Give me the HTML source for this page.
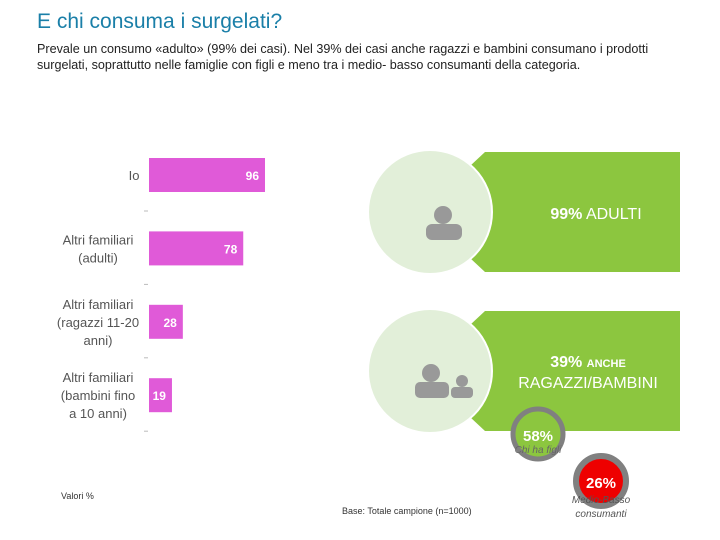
<!DOCTYPE html>
<html><head><meta charset="utf-8"><style>
body{margin:0;width:720px;height:540px;background:#fff;overflow:hidden;font-family:"Liberation Sans",sans-serif;position:relative}
.t{position:absolute;white-space:nowrap}
</style></head><body>
<div class="t" style="left:37px;top:10px;font-size:21px;color:#1a7fa8">E chi consuma i surgelati?</div>
<div class="t" style="left:37px;top:41px;font-size:12.6px;color:#222;line-height:16px">Prevale un consumo «adulto» (99% dei casi). Nel 39% dei casi anche ragazzi e bambini consumano i prodotti<br>surgelati, soprattutto nelle famiglie con figli e meno tra i medio- basso consumanti della categoria.</div>
<svg id="chart" width="720" height="540" style="position:absolute;left:0;top:0"></svg>
<svg width="720" height="540" style="position:absolute;left:0;top:0">
<polygon points="485,152 680,152 680,272 485,272 470,258 470,166" fill="#8cc63f"/>
<circle cx="430" cy="212" r="62" fill="#e2efd9" stroke="#fff" stroke-width="2"/>
<circle cx="443" cy="215" r="9" fill="#999"/>
<rect x="426" y="224" width="36" height="16" rx="6" fill="#999"/>
<text x="596" y="219" text-anchor="middle" font-size="16" fill="#fff"><tspan font-weight="bold">99%</tspan> ADULTI</text>
<polygon points="485,311 680,311 680,431 485,431 470,417 470,325" fill="#8cc63f"/>
<circle cx="430" cy="371" r="62" fill="#e2efd9" stroke="#fff" stroke-width="2"/>
<circle cx="431" cy="373" r="9" fill="#999"/>
<rect x="415" y="382" width="34" height="16" rx="5" fill="#999"/>
<circle cx="462" cy="381" r="6" fill="#999"/>
<rect x="451" y="387" width="22" height="11" rx="4" fill="#999"/>
<text x="588" y="367" text-anchor="middle" font-size="16" fill="#fff" font-weight="bold">39% <tspan font-size="11">ANCHE</tspan></text>
<text x="588" y="388" text-anchor="middle" font-size="16" fill="#fff">RAGAZZI/BAMBINI</text>
<circle cx="538" cy="434" r="25" fill="#8cc63f" stroke="#808080" stroke-width="5"/>
<text x="538" y="441" text-anchor="middle" font-size="15" font-weight="bold" fill="#fff">58%</text>
<text x="538" y="453" text-anchor="middle" font-size="10" font-style="italic" fill="#666">Chi ha figli</text>
<circle cx="601" cy="481" r="25" fill="#e00" stroke="#808080" stroke-width="6"/>
<text x="601" y="488" text-anchor="middle" font-size="15" font-weight="bold" fill="#fff">26%</text>
<text x="601" y="503" text-anchor="middle" font-size="10" font-style="italic" fill="#555">Medio-Basso</text>
<text x="601" y="517" text-anchor="middle" font-size="10" font-style="italic" fill="#555">consumanti</text>
<text x="61" y="499" font-size="9" fill="#333">Valori %</text>
<text x="342" y="514" font-size="9" fill="#333">Base: Totale campione (n=1000)</text>
</svg>
<script>
const categories=[["Io"],["Altri familiari","(adulti)"],["Altri familiari","(ragazzi 11-20","anni)"],["Altri familiari","(bambini fino","a 10 anni)"]];
const values=[96,78,28,19];
const svg=document.getElementById('chart');
const NS='http://www.w3.org/2000/svg';
const x0=149,scale=116/96,top0=158,step=73.4,bh=34;
const xS=v=>x0+v*scale, yS=i=>top0+i*step;
function mk(t,a){const e=document.createElementNS(NS,t);for(const k in a)e.setAttribute(k,a[k]);svg.appendChild(e);return e;}
values.forEach((v,i)=>{
 const r=mk('rect',{x:x0,y:yS(i),width:xS(v)-x0,height:bh,fill:'#e05ad8'});
 
 
 const t=mk('text',{x:xS(v)-6,y:yS(i)+bh/2+5,'text-anchor':'end','font-size':12,'font-weight':'bold',fill:'#fff'});
 t.textContent=v;
 
 
 const lines=categories[i],lh=18,cy=yS(i)+bh/2;
 lines.forEach((s,j)=>{
  const l=mk('text',{x:98,y:cy+5+(j-(lines.length-1)/2)*lh,'text-anchor':'middle','font-size':13,fill:'#555'});
  if(lines.length===1)l.setAttribute('x',134);
  l.textContent=s;
  
  
 });
 const tk=mk('line',{x1:144,x2:148,y1:yS(i)+bh+19,y2:yS(i)+bh+19,stroke:'#bbb'});
 
 
});
</script>
</body></html>
